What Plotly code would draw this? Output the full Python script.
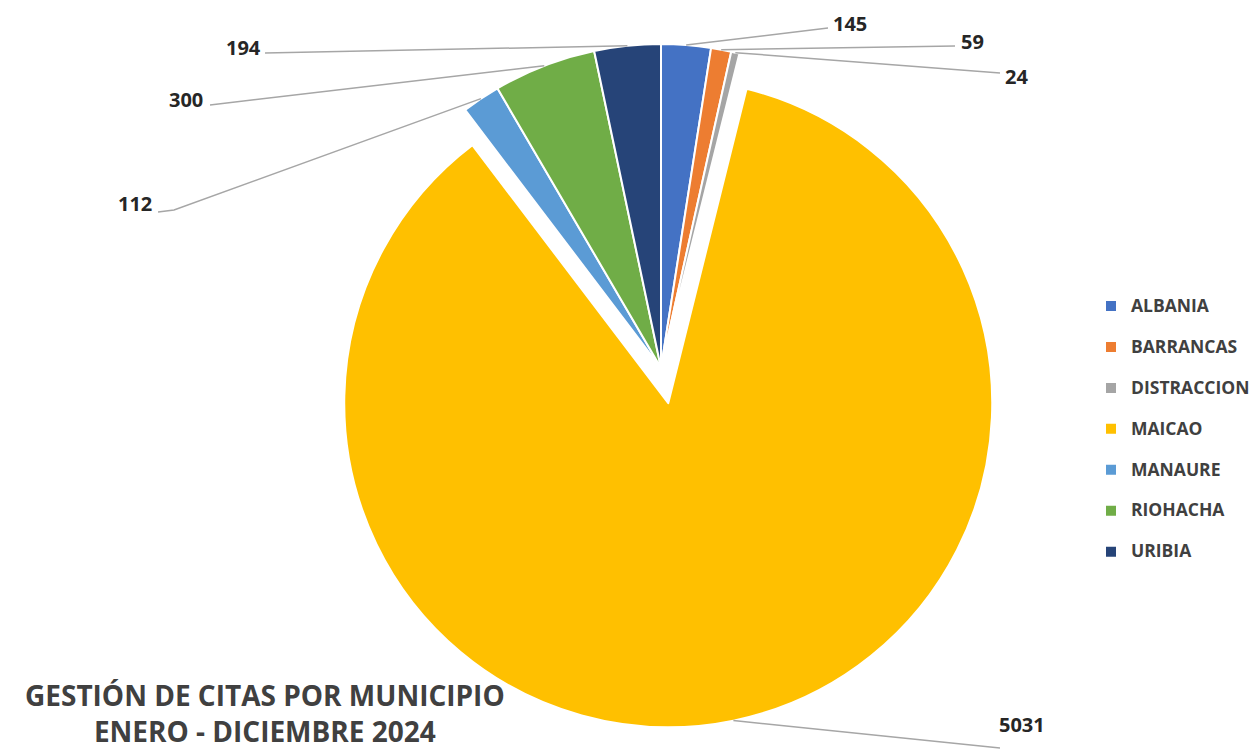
import numpy as np
import plotly.graph_objects as go

# ---------------- data ----------------
categories = ["ALBANIA", "BARRANCAS", "DISTRACCION", "MAICAO", "MANAURE", "RIOHACHA", "URIBIA"]
values = [145, 59, 24, 5031, 112, 300, 194]
colors = ["#4472C4", "#ED7D31", "#A5A5A5", "#FFC000", "#5B9BD5", "#70AD47", "#264478"]
title_lines = ["GESTIÓN DE CITAS POR MUNICIPIO", "ENERO - DICIEMBRE 2024"]

# ---------------- layout constants (pixels) ----------------
W, H = 1256, 751
CX, CY, R = 661, 368, 324          # pie centre / radius in px
pulls = [0, 0, 0, 0.111, 0, 0, 0]
max_pull = max(pulls)
half = R * (1 + max_pull)

# label text positions and leader-line end points (px)
label_pos = [(850, 24), (972, 42), (1016, 76), (1022, 724), (135, 204), (186, 99), (243, 47)]
line_end = [[(828, 28)], [(955, 46)], [(1000, 73)], [(1000, 748)],
            [(174, 210), (158, 212)], [(210, 105)], [(265, 53)]]

def px(x, y):
    return x / W, 1 - y / H

dom_x = [(CX - half) / W, (CX + half) / W]
dom_y = [1 - (CY + half) / H, 1 - (CY - half) / H]

legend_labels = ["<span style='font-size:17.5px'>" + c + "</span><br> " for c in categories]

fig = go.Figure(go.Pie(
    labels=legend_labels,
    values=values,
    sort=False,
    direction="clockwise",
    rotation=0,
    pull=pulls,
    marker=dict(colors=colors, line=dict(color="white", width=2)),
    textinfo="none",
    customdata=categories,
    hovertemplate="%{customdata}: %{value}<extra></extra>",
    domain=dict(x=dom_x, y=dom_y),
))

# leader lines + value labels computed from the data angles
total = float(sum(values))
cum = np.cumsum([0] + values)
shapes, annotations = [], []
for i, v in enumerate(values):
    mid = (cum[i] + v / 2) / total * 2 * np.pi
    ox = pulls[i] * R * np.sin(mid)
    oy = -pulls[i] * R * np.cos(mid)
    sx = CX + ox + R * np.sin(mid)
    sy = CY + oy - R * np.cos(mid)
    pts = [(sx, sy)] + line_end[i]
    path = ""
    for k, (x, y) in enumerate(pts):
        X, Y = px(x, y)
        path += ("M" if k == 0 else " L") + f" {X:.5f},{Y:.5f}"
    shapes.append(dict(type="path", path=path, xref="paper", yref="paper",
                       line=dict(color="#A6A6A6", width=1.5)))
    lx, ly = px(*label_pos[i])
    annotations.append(dict(x=lx, y=ly, xref="paper", yref="paper", text=str(v),
                            showarrow=False, xanchor="center", yanchor="middle",
                            font=dict(family="Open Sans", size=20, color="#262626",
                                      weight="bold")))

tx, ty = px(265, 713)
annotations.append(dict(x=tx, y=ty, xref="paper", yref="paper",
                        text="<br>".join(title_lines), showarrow=False,
                        xanchor="center", yanchor="middle", align="center",
                        font=dict(family="Open Sans", size=28, color="#404040",
                                  weight="bold")))

lgx, lgy = px(1091, 290)
fig.update_layout(
    width=W, height=H,
    margin=dict(l=0, r=0, t=0, b=0),
    paper_bgcolor="white", plot_bgcolor="white",
    shapes=shapes, annotations=annotations,
    showlegend=True,
    legend=dict(x=lgx, y=lgy, xanchor="left", yanchor="top", valign="top",
                font=dict(family="Open Sans", size=14.6, color="#404040", weight="bold"),
                itemclick=False, itemdoubleclick=False),
)

fig.write_html("out.html", config={"displayModeBar": False},
               post_script="document.body.style.margin='0px';")
